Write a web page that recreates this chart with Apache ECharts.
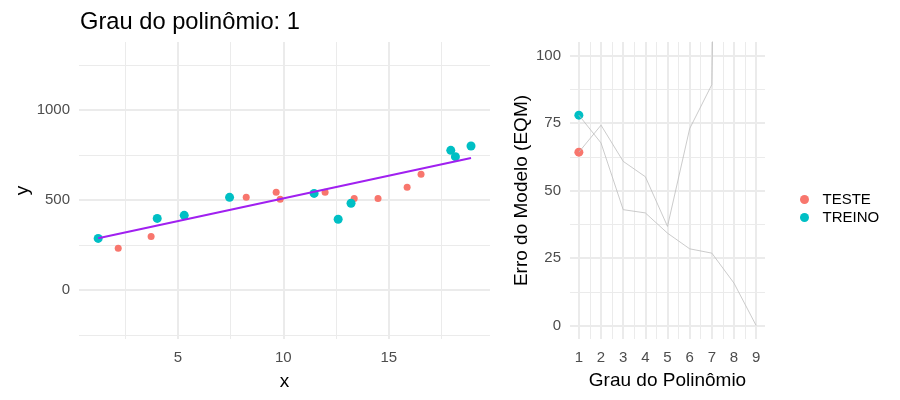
<!DOCTYPE html>
<html lang="pt">
<head>
    <meta charset="UTF-8">
    <title>Grau do polinômio</title>
    <script src="https://cdn.jsdelivr.net/npm/echarts@6/dist/echarts.min.js"></script>
</head>
<body style="margin:0;">

<div id="main" style="width: 900px;height:400px;"></div>

<script type="text/javascript">
    // dados
    var treinoX = [1.22, 4.02, 5.30, 7.45, 11.46, 12.60, 13.21, 17.94, 18.16, 18.90];
    var treinoY = [287, 398, 415, 515, 537, 393, 482, 776, 741, 800];
    var testeX = [2.17, 3.73, 8.24, 9.66, 9.85, 11.98, 13.36, 14.49, 15.87, 16.53];
    var testeY = [232, 298, 515, 543, 504, 543, 509, 509, 571, 643];
    var ajusteX = [1.22, 18.90];
    var ajusteY = [288, 733];

    var graus = [1, 2, 3, 4, 5, 6, 7, 8, 9];
    var erroTeste = [64.2, 74.2, 60.8, 55.1, 36.7, 72.9, 89.2, 600, 3000];
    var erroTreino = [77.9, 67.6, 42.9, 41.7, 34.2, 28.4, 26.8, 15.7, 0];

    // ticks
    var ticksX = [5, 10, 15];
    var minorX = [2.5, 7.5, 12.5, 17.5];
    var ticksY = [0, 500, 1000];
    var minorY = [-250, 250, 750, 1250];
    var ticksGrau = [1, 2, 3, 4, 5, 6, 7, 8, 9];
    var minorGrau = [1.5, 2.5, 3.5, 4.5, 5.5, 6.5, 7.5, 8.5];
    var ticksErro = [0, 25, 50, 75, 100];
    var minorErro = [12.5, 37.5, 62.5, 87.5];

    function pares(xs, ys) {
        return xs.map(function (x, i) { return [x, ys[i]]; });
    }

    var fonte = "'Liberation Sans', Arial, sans-serif";
    var corTeste = '#F8766D';
    var corTreino = '#00BFC4';

    function eixo(grid, min, max, valores, major, margem, extra) {
        var e = {
            type: 'value',
            gridIndex: grid,
            min: min,
            max: max,
            axisLine: {show: false},
            axisTick: {show: false, customValues: valores},
            axisLabel: {
                show: major,
                customValues: valores,
                formatter: function (v) { return String(v); },
                margin: margem,
                color: '#4D4D4D',
                fontSize: 15,
                fontFamily: fonte
            },
            splitLine: {
                show: true,
                lineStyle: {color: '#EBEBEB', width: major ? 2 : 1}
            }
        };
        for (var k in extra) { e[k] = extra[k]; }
        return e;
    }

    var nomeEstilo = {fontSize: 19, color: '#000', fontFamily: fonte};

    var myChart = echarts.init(document.getElementById('main'));

    myChart.setOption({
        animation: false,
        textStyle: {fontFamily: fonte},
        title: {
            text: 'Grau do polinômio: 1',
            left: 75,
            top: 5,
            textStyle: {fontSize: 23.7, fontWeight: 'normal', color: '#000', fontFamily: fonte}
        },
        legend: {
            orient: 'vertical',
            left: 795,
            top: 187,
            itemWidth: 26,
            itemHeight: 9,
            itemGap: 3,
            icon: 'circle',
            data: ['TESTE', 'TREINO'],
            textStyle: {fontSize: 15, color: '#000', fontFamily: fonte}
        },
        grid: [
            {left: 79, top: 42, width: 411, height: 297},
            {left: 570, top: 42, width: 195, height: 297}
        ],
        xAxis: [
            eixo(0, 0.31, 19.8, minorX, false, 11, {position: 'bottom'}),
            eixo(0, 0.31, 19.8, ticksX, true, 11, {
                position: 'bottom', name: 'x', nameLocation: 'middle', nameGap: 33,
                nameTextStyle: nomeEstilo
            }),
            eixo(1, 0.6, 9.4, minorGrau, false, 11, {position: 'bottom'}),
            eixo(1, 0.6, 9.4, ticksGrau, true, 11, {
                position: 'bottom', name: 'Grau do Polinômio', nameLocation: 'middle', nameGap: 32,
                nameTextStyle: nomeEstilo
            })
        ],
        yAxis: [
            eixo(0, -272, 1378, minorY, false, 9, {position: 'left'}),
            eixo(0, -272, 1378, ticksY, true, 9, {
                position: 'left', name: 'y', nameLocation: 'middle', nameGap: 46,
                nameTextStyle: nomeEstilo
            }),
            eixo(1, -5, 105, minorErro, false, 9, {position: 'left'}),
            eixo(1, -5, 105, ticksErro, true, 9, {
                position: 'left', name: 'Erro do Modelo (EQM)', nameLocation: 'middle', nameGap: 39,
                nameTextStyle: nomeEstilo
            })
        ],
        series: [
            {
                name: 'ajuste',
                type: 'line',
                xAxisIndex: 1,
                yAxisIndex: 1,
                symbol: 'none',
                lineStyle: {color: '#A020F0', width: 2},
                data: pares(ajusteX, ajusteY)
            },
            {
                name: 'TESTE',
                type: 'scatter',
                xAxisIndex: 1,
                yAxisIndex: 1,
                symbolSize: 7,
                itemStyle: {color: corTeste, opacity: 1},
                data: pares(testeX, testeY)
            },
            {
                name: 'TREINO',
                type: 'scatter',
                xAxisIndex: 1,
                yAxisIndex: 1,
                symbolSize: 9,
                itemStyle: {color: corTreino, opacity: 1},
                data: pares(treinoX, treinoY)
            },
            {
                name: 'linhaTeste',
                type: 'line',
                xAxisIndex: 3,
                yAxisIndex: 3,
                symbol: 'none',
                clip: true,
                lineStyle: {color: '#BEBEBE', width: 0.8},
                data: pares(graus, erroTeste)
            },
            {
                name: 'linhaTreino',
                type: 'line',
                xAxisIndex: 3,
                yAxisIndex: 3,
                symbol: 'none',
                clip: true,
                lineStyle: {color: '#BEBEBE', width: 0.8},
                data: pares(graus, erroTreino)
            },
            {
                name: 'TESTE',
                type: 'scatter',
                xAxisIndex: 3,
                yAxisIndex: 3,
                symbolSize: 9,
                itemStyle: {color: corTeste, opacity: 1},
                data: [[graus[0], erroTeste[0]]]
            },
            {
                name: 'TREINO',
                type: 'scatter',
                xAxisIndex: 3,
                yAxisIndex: 3,
                symbolSize: 9,
                itemStyle: {color: corTreino, opacity: 1},
                data: [[graus[0], erroTreino[0]]]
            }
        ]
    });
</script>

</body>
</html>
